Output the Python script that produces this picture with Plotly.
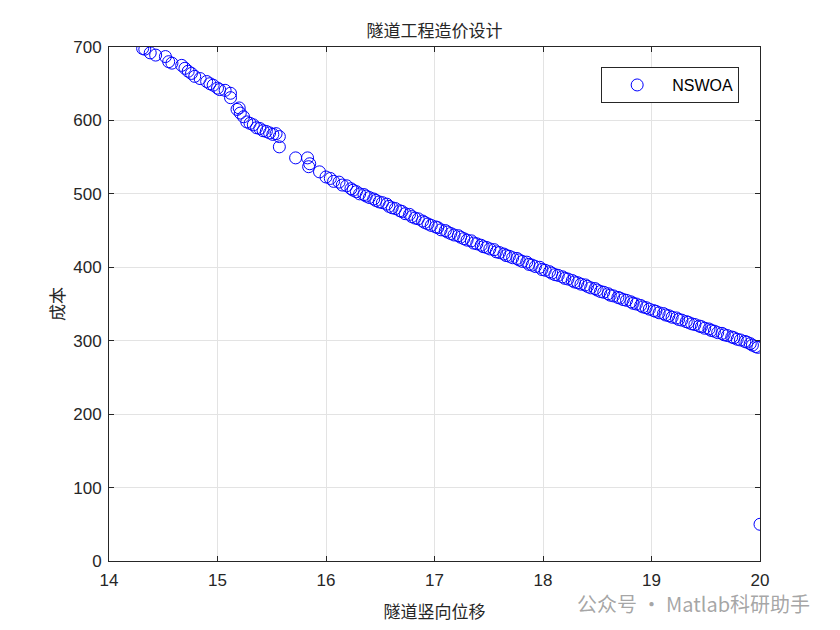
import plotly.graph_objects as go

# Pareto front (x: 隧道竖向位移, y: 成本)
x_vals = [
    14.31, 14.33, 14.38, 14.43, 14.52, 14.55, 14.58, 14.67, 14.70, 14.73,
    14.76, 14.79, 14.84, 14.90, 14.93, 14.96, 15.00, 15.02, 15.07, 15.12,
    15.12, 15.18, 15.20, 15.21, 15.24, 15.27, 15.30, 15.33, 15.36, 15.39,
    15.42, 15.45, 15.48, 15.51, 15.54, 15.57, 15.57, 15.72, 15.83, 15.84,
    15.85, 15.94, 16.00, 16.04, 16.07, 16.12, 16.15, 16.19, 16.23, 16.25,
    16.28, 16.31, 16.35, 16.37, 16.40, 16.44, 16.46, 16.49, 16.52, 16.56,
    16.58, 16.61, 16.64, 16.68, 16.70, 16.73, 16.77, 16.79, 16.82, 16.85,
    16.89, 16.91, 16.94, 16.97, 17.01, 17.03, 17.06, 17.10, 17.12, 17.15,
    17.18, 17.22, 17.24, 17.27, 17.30, 17.34, 17.36, 17.39, 17.43, 17.45,
    17.48, 17.51, 17.55, 17.57, 17.60, 17.64, 17.66, 17.69, 17.72, 17.76,
    17.78, 17.81, 17.85, 17.87, 17.90, 17.93, 17.97, 17.99, 18.02, 18.06,
    18.08, 18.11, 18.14, 18.18, 18.20, 18.23, 18.27, 18.29, 18.32, 18.35,
    18.39, 18.41, 18.44, 18.48, 18.50, 18.53, 18.56, 18.60, 18.62, 18.65,
    18.69, 18.71, 18.74, 18.77, 18.81, 18.83, 18.86, 18.90, 18.92, 18.95,
    18.98, 19.02, 19.04, 19.07, 19.11, 19.13, 19.16, 19.19, 19.23, 19.25,
    19.28, 19.32, 19.34, 19.37, 19.40, 19.44, 19.46, 19.49, 19.53, 19.55,
    19.58, 19.61, 19.65, 19.67, 19.70, 19.74, 19.76, 19.79, 19.82, 19.86,
    19.88, 19.91, 19.93, 19.96, 19.98, 20.00,
]
y_vals = [
    698, 697, 692, 689, 687, 680, 678, 675, 671, 667,
    664, 660, 657, 653, 650, 648, 644, 642, 641, 637,
    631, 615, 617, 610, 605, 598, 596, 594, 590, 589,
    586, 585, 583, 581, 582, 578, 564, 549, 549, 537,
    541, 530, 523, 521, 517, 516, 512, 511, 507, 505,
    503, 500, 499, 497, 495, 493, 491, 489, 488, 486,
    483, 481, 480, 477, 476, 473, 472, 469, 467, 466,
    463, 461, 459, 457, 455, 454, 451, 450, 448, 446,
    444, 443, 441, 439, 437, 436, 433, 432, 430, 428,
    427, 425, 424, 421, 420, 418, 416, 415, 413, 412,
    410, 408, 407, 404, 403, 401, 400, 397, 396, 394,
    392, 390, 389, 387, 385, 384, 382, 380, 379, 377,
    376, 374, 372, 371, 369, 367, 366, 364, 362, 361,
    359, 358, 356, 355, 353, 351, 350, 348, 346, 345,
    343, 341, 340, 338, 337, 335, 334, 332, 331, 329,
    328, 326, 325, 323, 322, 320, 319, 317, 316, 314,
    313, 311, 310, 308, 307, 305, 304, 302, 301, 299,
    298, 296, 294, 292, 291, 50,
]

x_ticks = [14, 15, 16, 17, 18, 19, 20]
y_ticks = [0, 100, 200, 300, 400, 500, 600, 700]

title_text = "隧道工程造价设计"
x_title = "隧道竖向位移"
y_title = "成本"
series_name = "NSWOA"
watermark = "公众号 · Matlab科研助手"

cjk = "Noto Sans CJK SC"
latin = "Liberation Sans, Arial, sans-serif"

fig = go.Figure()
fig.add_trace(go.Scatter(
    x=x_vals, y=y_vals, mode="markers", name=series_name,
    marker=dict(symbol="circle-open", size=12, color="#0000ff",
                line=dict(color="#0000ff", width=1)),
))

axis_common = dict(
    showline=True, linecolor="#262626", linewidth=1, mirror="ticks",
    ticks="inside", ticklen=5, tickcolor="#262626",
    showgrid=True, gridcolor="#e3e3e3", gridwidth=1,
    zeroline=False, automargin=False,
    tickfont=dict(family=latin, size=17, color="#262626"),
)

# the page body adds an 8px offset, so the figure is 8px smaller
fig.update_layout(
    width=832, height=622,
    paper_bgcolor="white", plot_bgcolor="white",
    margin=dict(l=101, r=80, t=39, b=69, autoexpand=False),
    showlegend=True,
    legend=dict(
        x=0.968, y=0.961, xanchor="right", yanchor="top",
        bgcolor="white", bordercolor="#262626", borderwidth=1,
        font=dict(family=latin, size=16, color="#000000"),
        itemwidth=60,
    ),
    title=dict(text=title_text, x=0.5, xref="paper", xanchor="center",
               y=1, yref="container", yanchor="top", pad=dict(t=17),
               font=dict(family=cjk, size=17, color="#262626"),
               automargin=False),
    xaxis=dict(range=[14, 20], tickvals=x_ticks, ticklabelstandoff=4,
               **axis_common,
               title=dict(text=x_title, standoff=16,
                          font=dict(family=cjk, size=17, color="#262626"))),
    yaxis=dict(range=[0, 700], tickvals=y_ticks, ticklabelstandoff=3,
               **axis_common,
               title=dict(text=y_title, standoff=4,
                          font=dict(family=cjk, size=17, color="#262626"))),
)

fig.add_annotation(
    text=watermark, xref="paper", yref="paper",
    x=1.08, y=-0.082, xanchor="right", yanchor="middle", showarrow=False,
    font=dict(family=cjk, size=20, color="rgba(150,150,150,0.85)"),
)

fig.write_html("out.html")
